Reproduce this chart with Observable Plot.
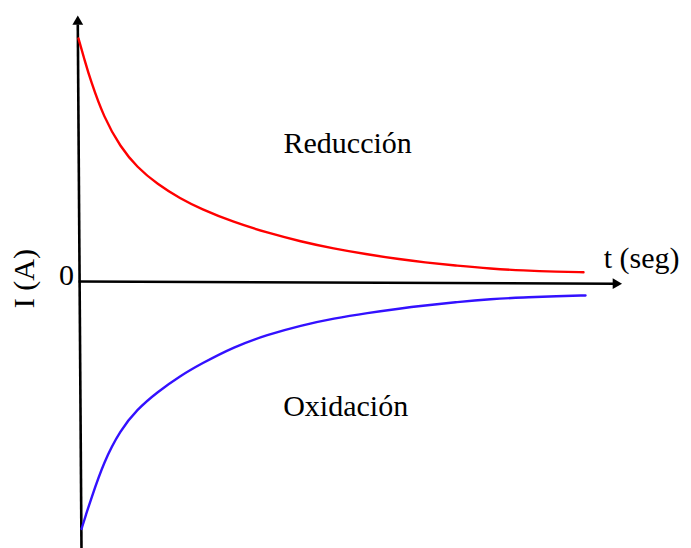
<!DOCTYPE html>
<html>
<head>
<meta charset="utf-8">
<script src="https://cdn.jsdelivr.net/npm/d3@7"></script>
<script src="https://cdn.jsdelivr.net/npm/@observablehq/plot@0.6"></script>
<style>
  html, body { margin: 0; padding: 0; background: #fff; }
  svg { display: block; }
</style>
</head>
<body>
<script>
// Time (s) and current (A, normalized)
const redT = [0, 0.12, 0.24, 0.50, 0.83, 1.16, 1.56, 2.02, 2.42, 3.07, 3.74, 4.40, 5.05, 5.72, 6.38, 6.83, 7.50, 8.16, 8.81, 9.48, 10.0];
const redI = [1.0, 0.912, 0.828, 0.677, 0.555, 0.472, 0.403, 0.343, 0.302, 0.247, 0.204, 0.168, 0.139, 0.115, 0.095, 0.083, 0.069, 0.057, 0.049, 0.044, 0.042];

const blueT = [0.06, 0.15, 0.24, 0.50, 0.83, 1.16, 1.56, 2.02, 2.42, 3.08, 3.74, 4.40, 5.06, 5.72, 6.38, 6.83, 7.50, 8.16, 8.81, 9.48, 10.04];
const blueI = [-1.01, -0.950, -0.893, -0.735, -0.605, -0.520, -0.449, -0.382, -0.334, -0.263, -0.214, -0.176, -0.147, -0.125, -0.106, -0.095, -0.080, -0.068, -0.061, -0.056, -0.053];

// Axis lines (data units) and their arrow tips
const axisLines = [
  {x1: 0.059, y1: -1.09, x2: -0.014, y2: 1.057},
  {x1: 0, y1: 0.004, x2: 10.65, y2: -0.005}
];
const arrowHeads = [
  {x: -0.014, y: 1.069, rotate: 0},
  {x: 10.64, y: -0.005, rotate: 90}
];

// Text annotations
const labels = ["Reducción", "Oxidación", "0", "t (seg)"];
const labelT = [5.33, 5.29, -0.24, 10.4];
const labelI = [0.572, -0.506, 0.031, 0.10];
const labelAnchor = ["middle", "middle", "middle", "start"];
const yLabel = "I (A)";

const red = redT.map((t, i) => ({t, I: redI[i]}));
const blue = blueT.map((t, i) => ({t, I: blueI[i]}));
const texts = labels.map((text, i) => ({text, t: labelT[i], I: labelI[i], anchor: labelAnchor[i]}));

const chart = Plot.plot({
  width: 691,
  height: 548,
  margin: 0,
  style: {fontFamily: "Liberation Serif", background: "#fff"},
  x: {domain: [0, 10], range: [78, 583], axis: null},
  y: {domain: [-1, 1], range: [526, 38], axis: null},
  marks: [
    Plot.link(axisLines, {x1: "x1", y1: "y1", x2: "x2", y2: "y2", stroke: "black", strokeWidth: 2.6}),
    Plot.dot(arrowHeads, {x: "x", y: "y", rotate: "rotate", symbol: "triangle", r: 4, fill: "black", stroke: "none"}),
    Plot.line(red, {x: "t", y: "I", stroke: "#ff0000", strokeWidth: 2.4, curve: "basis"}),
    Plot.line(blue, {x: "t", y: "I", stroke: "#3311ff", strokeWidth: 2.4, curve: "basis"}),
    Plot.text(texts.filter(d => d.anchor === "middle"), {x: "t", y: "I", text: "text", fontSize: 30, textAnchor: "middle", fill: "black"}),
    Plot.text(texts.filter(d => d.anchor === "start"), {x: "t", y: "I", text: "text", fontSize: 30, textAnchor: "start", fill: "black"}),
    Plot.text([yLabel], {x: -1.08, y: 0.016, text: d => d, fontSize: 30, rotate: -90, textAnchor: "middle", fill: "black"})
  ]
});
document.body.appendChild(chart);
</script>
</body>
</html>
